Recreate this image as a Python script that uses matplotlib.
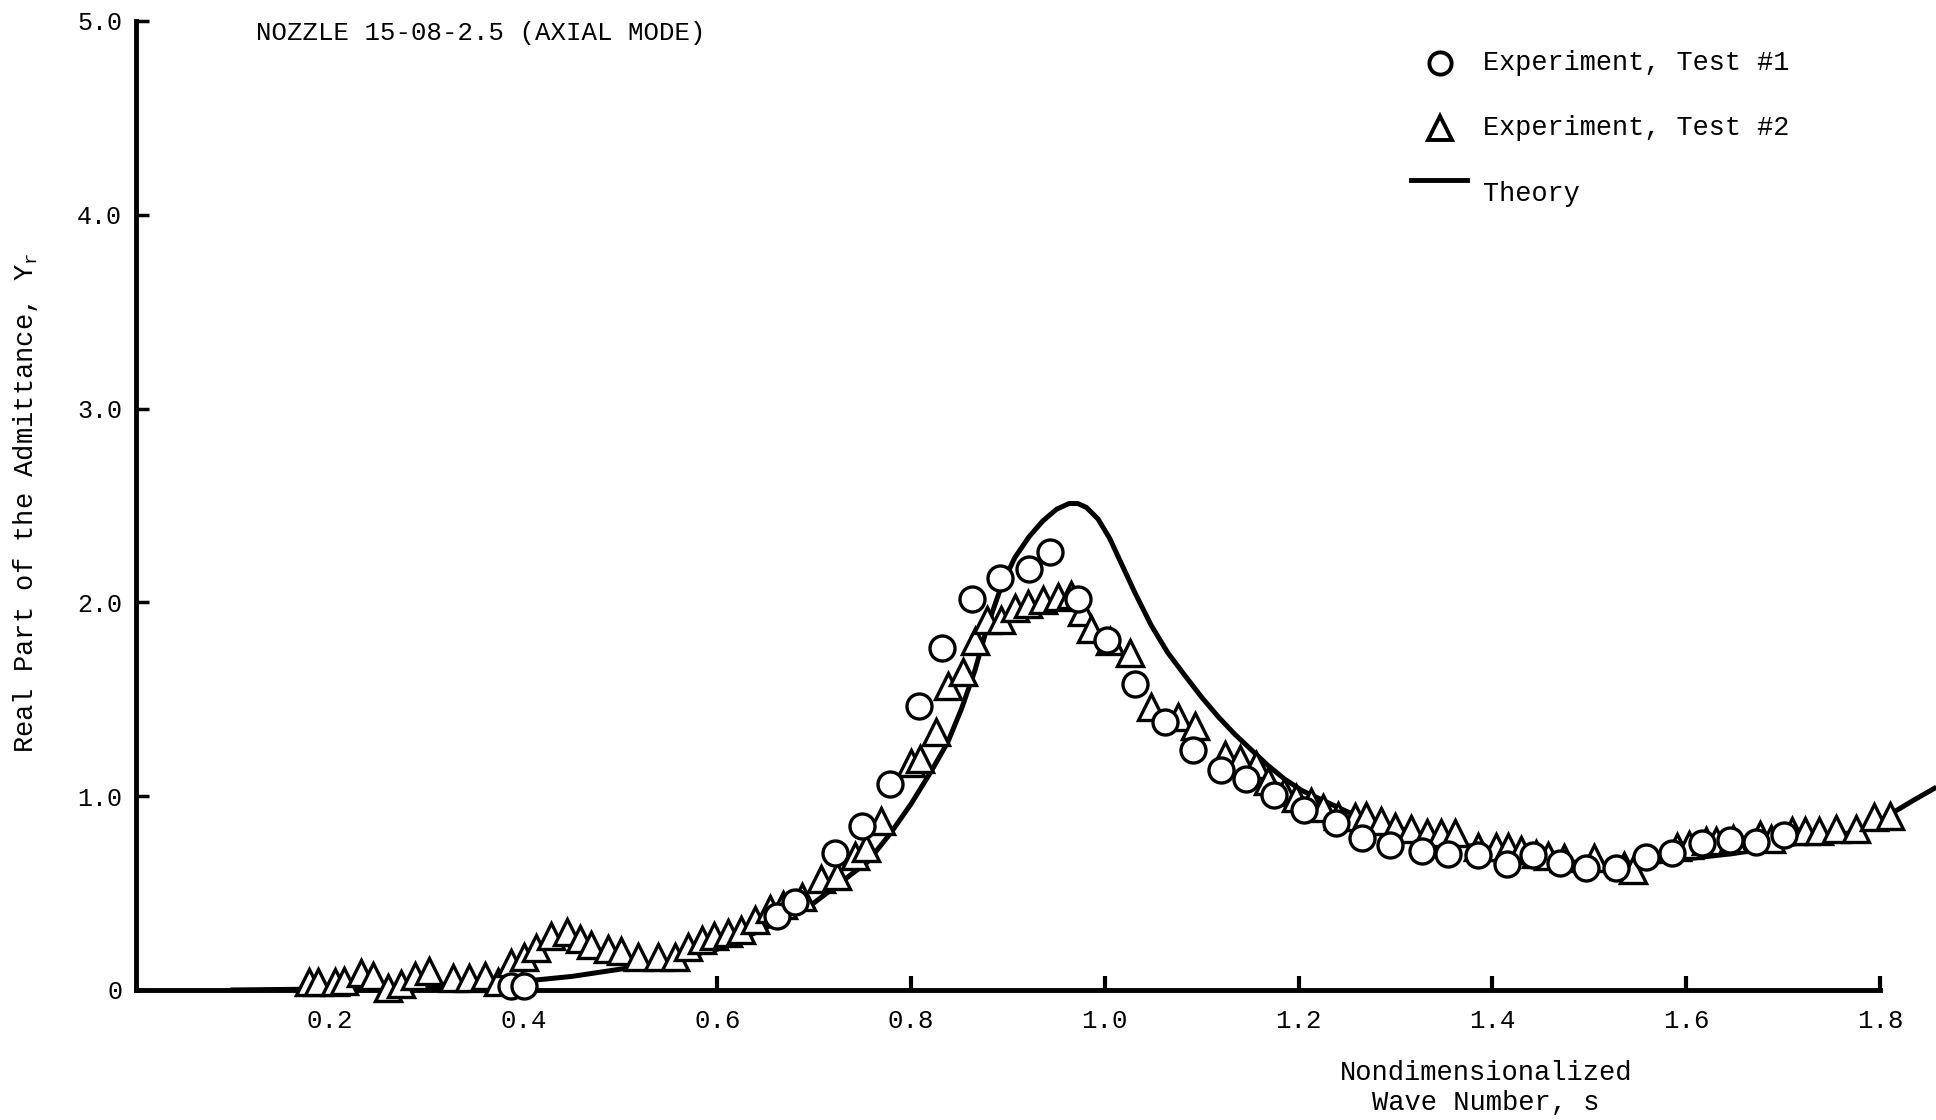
import matplotlib
matplotlib.use('Agg')
import matplotlib.pyplot as plt
from matplotlib.lines import Line2D

plt.rcParams['font.family'] = ['Liberation Mono', 'DejaVu Sans Mono']
plt.rcParams['mathtext.fontset'] = 'custom'
plt.rcParams['mathtext.rm'] = 'Liberation Mono'

# Experiment, Test #1 (circles)
s_test1 = [0.387, 0.401, 0.662, 0.680, 0.721, 0.749, 0.778, 0.808, 0.832, 0.863,
           0.892, 0.922, 0.943, 0.972, 1.002, 1.031, 1.062, 1.091, 1.120, 1.146,
           1.175, 1.206, 1.239, 1.265, 1.294, 1.327, 1.354, 1.385, 1.415, 1.442,
           1.470, 1.497, 1.528, 1.559, 1.585, 1.616, 1.645, 1.672, 1.701]
y_test1 = [0.02, 0.02, 0.38, 0.455, 0.708, 0.845, 1.065, 1.464, 1.766, 2.015,
           2.127, 2.174, 2.259, 2.015, 1.804, 1.577, 1.383, 1.237, 1.134, 1.091,
           1.005, 0.928, 0.859, 0.782, 0.747, 0.718, 0.701, 0.696, 0.649, 0.696,
           0.653, 0.627, 0.627, 0.684, 0.705, 0.756, 0.773, 0.765, 0.799]

# Experiment, Test #2 (triangles)
s_test2 = [0.179, 0.188, 0.205, 0.215, 0.232, 0.245, 0.260, 0.274, 0.288, 0.303,
           0.327, 0.344, 0.360, 0.374, 0.387, 0.401, 0.413, 0.428, 0.445, 0.458,
           0.470, 0.487, 0.501, 0.518, 0.539, 0.556, 0.570, 0.584, 0.597, 0.611,
           0.625, 0.639, 0.654, 0.668, 0.687, 0.707, 0.724, 0.742, 0.754, 0.769,
           0.800, 0.809, 0.826, 0.838, 0.854, 0.866, 0.878, 0.893, 0.907, 0.921,
           0.936, 0.952, 0.965, 0.976, 0.986, 1.005, 1.026, 1.048, 1.075, 1.093,
           1.124, 1.139, 1.156, 1.168, 1.185, 1.197, 1.213, 1.225, 1.241, 1.258,
           1.270, 1.285, 1.299, 1.316, 1.332, 1.347, 1.361, 1.385, 1.404, 1.416,
           1.430, 1.445, 1.457, 1.474, 1.505, 1.536, 1.545, 1.591, 1.603, 1.620,
           1.631, 1.648, 1.676, 1.687, 1.709, 1.723, 1.737, 1.755, 1.775, 1.794,
           1.810]
y_test2 = [0.04, 0.04, 0.04, 0.045, 0.09, 0.07, 0.01, 0.03, 0.07, 0.10,
           0.06, 0.06, 0.07, 0.04, 0.14, 0.17, 0.215, 0.28, 0.30, 0.265,
           0.23, 0.21, 0.20, 0.17, 0.17, 0.17, 0.22, 0.26, 0.28, 0.295,
           0.31, 0.36, 0.42, 0.44, 0.48, 0.57, 0.59, 0.69, 0.73, 0.87,
           1.17, 1.19, 1.33, 1.57, 1.64, 1.80, 1.91, 1.91, 1.97, 1.99,
           2.01, 2.03, 2.04, 1.95, 1.86, 1.80, 1.74, 1.46, 1.41, 1.36,
           1.21, 1.19, 1.16, 1.08, 1.02, 0.99, 0.97, 0.94, 0.90, 0.89,
           0.90, 0.87, 0.84, 0.83, 0.81, 0.81, 0.81, 0.74, 0.74, 0.74,
           0.72, 0.70, 0.69, 0.68, 0.68, 0.64, 0.62, 0.74, 0.75, 0.77,
           0.77, 0.78, 0.80, 0.78, 0.82, 0.82, 0.82, 0.833, 0.833, 0.89,
           0.90]

# Theory curve
s_theory = [0.10, 0.30, 0.39, 0.45, 0.53, 0.60, 0.646, 0.70, 0.755, 0.779,
            0.80, 0.821, 0.838, 0.852, 0.866, 0.879, 0.893, 0.907, 0.922, 0.936,
            0.950, 0.963, 0.972, 0.981, 0.993, 1.005, 1.018, 1.031, 1.048, 1.065,
            1.083, 1.100, 1.117, 1.134, 1.151, 1.168, 1.185, 1.203, 1.25, 1.30,
            1.35, 1.40, 1.45, 1.50, 1.53, 1.56, 1.59, 1.65, 1.72, 1.76,
            1.788, 1.815, 1.835, 1.856]
y_theory = [0.0, 0.01, 0.04, 0.07, 0.13, 0.21, 0.31, 0.45, 0.66, 0.81,
            0.96, 1.13, 1.28, 1.45, 1.65, 1.88, 2.08, 2.23, 2.34, 2.42,
            2.48, 2.51, 2.51, 2.49, 2.43, 2.33, 2.19, 2.05, 1.88, 1.74,
            1.62, 1.51, 1.41, 1.32, 1.24, 1.16, 1.09, 1.03, 0.92, 0.84,
            0.77, 0.72, 0.68, 0.65, 0.64, 0.655, 0.67, 0.705, 0.76, 0.80,
            0.84, 0.92, 0.98, 1.04]

x_ticks = [0.2, 0.4, 0.6, 0.8, 1.0, 1.2, 1.4, 1.6, 1.8]
x_labels = ['0.2', '0.4', '0.6', '0.8', '1.0', '1.2', '1.4', '1.6', '1.8']
y_ticks = [0, 1, 2, 3, 4, 5]
y_labels = ['0', '1.0', '2.0', '3.0', '4.0', '5.0']

fig = plt.figure(figsize=(19.36, 11.2), dpi=100)
ax = fig.add_axes([0.0702, 0.1161, 0.9309, 0.8652])

ax.plot(s_theory, y_theory, color='black', lw=3.6, zorder=2, clip_on=False,
        solid_joinstyle='round')
ax.plot(s_test2, y_test2, ls='none', marker='^', ms=19, mfc='white', mec='black',
        mew=2.4, zorder=3, clip_on=False)
ax.plot(s_test1, y_test1, ls='none', marker='o', ms=18, mfc='white', mec='black',
        mew=2.4, zorder=4, clip_on=False)

ax.set_xlim(0, 1.86)
ax.set_ylim(0, 5)
for side in ['top', 'right']:
    ax.spines[side].set_visible(False)
ax.spines['left'].set_linewidth(3.5)
ax.spines['bottom'].set_linewidth(3.5)
ax.spines['left'].set_bounds(0, 5)
ax.spines['bottom'].set_bounds(0, 1.8)

ax.set_xticks(x_ticks)
ax.set_xticklabels(x_labels)
ax.set_yticks(y_ticks)
ax.set_yticklabels(y_labels)
ax.tick_params(axis='x', direction='in', length=10, width=3, pad=14, labelsize=18.5)
ax.tick_params(axis='y', direction='in', length=9, width=2.5, pad=10, labelsize=18)
for t in ax.xaxis.get_major_ticks()[:2]:
    t.tick1line.set_visible(False)

fig.text(0.1322, 0.9705, 'NOZZLE 15-08-2.5 (AXIAL MODE)', fontsize=18.5, va='center')

fig.text(0.013, 0.551, r'Real Part of the Admittance, Y$_\mathregular{r}$',
         rotation=90, fontsize=19.5, ha='center', va='center')
fig.text(0.7676, 0.0286, 'Nondimensionalized\nWave Number, s', fontsize=19.5,
         ha='center', va='center', linespacing=1.2)

# legend
fig.add_artist(Line2D([0.7438], [0.9437], marker='o', ms=16, mfc='white',
                      mec='black', mew=2.8, transform=fig.transFigure))
fig.add_artist(Line2D([0.7438], [0.8857], marker='^', ms=17, mfc='white',
                      mec='black', mew=2.8, transform=fig.transFigure))
fig.add_artist(Line2D([0.7288, 0.7577], [0.8393, 0.8393], color='black', lw=3.5,
                      transform=fig.transFigure))
fig.text(0.766, 0.9437, 'Experiment, Test #1', fontsize=19.4, va='center')
fig.text(0.766, 0.8857, 'Experiment, Test #2', fontsize=19.4, va='center')
fig.text(0.766, 0.8268, 'Theory', fontsize=19.4, va='center')

fig.savefig('out.png', dpi=100)
